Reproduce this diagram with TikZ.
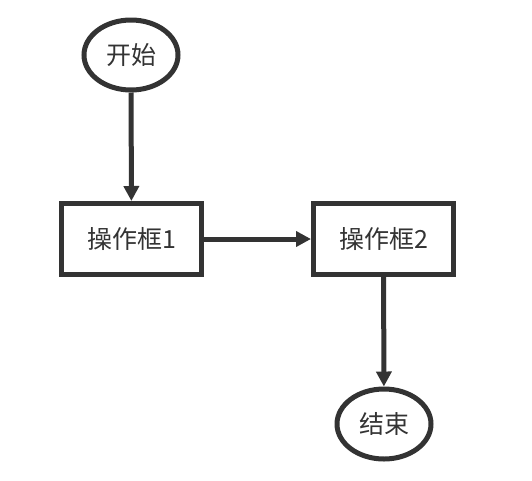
\documentclass[tikz,border=0pt]{standalone}
\usepackage{fontspec}
\setmainfont{Noto Sans CJK SC}
\usetikzlibrary{shapes.geometric,arrows.meta}
\definecolor{ink}{HTML}{333333}
\begin{document}
\begin{tikzpicture}[x=1pt,y=-1pt,
				every node/.style={draw=ink,line width=5pt,text=ink,font=\fontsize{25}{30}\selectfont},
				terminal/.style={ellipse,minimum width=94pt,minimum height=70pt,inner sep=0pt},
				opbox/.style={rectangle,minimum width=140pt,minimum height=71pt},
				flow/.style={draw=ink,line width=5pt,-{Triangle[width=15pt,length=15pt]}}]
\useasboundingbox (0,0) rectangle (532,480);
\node[terminal] (start) at (131,55) {开始};
\node[opbox] (box1) at (131.5,239) {操作框1};
\node[opbox] (box2) at (383.5,239) {操作框2};
\node[terminal] (stop) at (384,424) {结束};
\draw[flow] (start) -- (box1);
\draw[flow] (box1) -- (box2);
\draw[flow] (box2) -- (stop);
\end{tikzpicture}
\end{document}
